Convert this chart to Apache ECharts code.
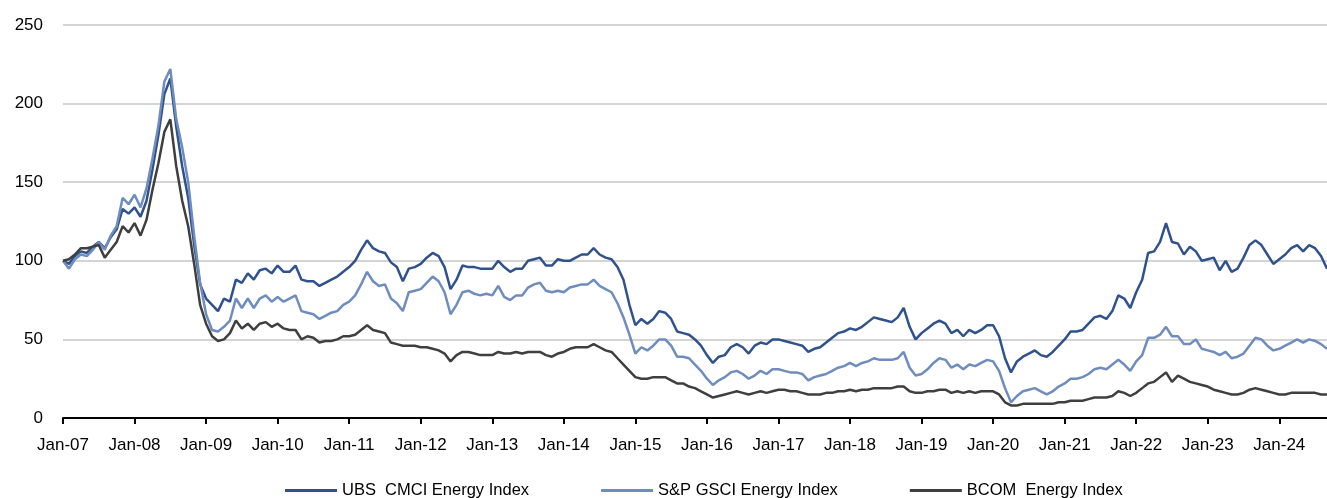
<!DOCTYPE html>
<html>
<head>
<meta charset="utf-8">
<title>Energy indices</title>
<script src="https://cdn.jsdelivr.net/npm/echarts@6/dist/echarts.min.js"></script>
<style>
  html, body { margin: 0; padding: 0; background: #fff; }
  #chart { width: 1327px; height: 498px; }
</style>
</head>
<body>
<div id="chart"></div>
<script>
// monthly readings, Jan-07 .. Sep-24
var years = ['07','08','09','10','11','12','13','14','15','16','17','18','19','20','21','22','23','24'];
var monthNames = ['Jan','Feb','Mar','Apr','May','Jun','Jul','Aug','Sep','Oct','Nov','Dec'];
var lastMonthCount = 9; // 2024 runs to Sep

var ubsCmci = [
  100, 98, 103, 106, 105, 109, 112, 108, 115, 120, 133, 130,
  134, 128, 138, 158, 180, 206, 216, 185, 160, 140, 110, 85,
  76, 72, 68, 76, 74, 88, 86, 92, 88, 94, 95, 92,
  97, 93, 93, 97, 88, 87, 87, 84, 86, 88, 90, 93,
  96, 100, 107, 113, 108, 106, 105, 99, 96, 87, 95, 96,
  98, 102, 105, 103, 96, 82, 88, 97, 96, 96, 95, 95,
  95, 100, 96, 93, 95, 95, 100, 101, 102, 97, 97, 101,
  100, 100, 102, 104, 104, 108, 104, 102, 101, 96, 88, 72,
  59, 63, 60, 63, 68, 67, 63, 55, 54, 53, 50, 46,
  40, 35, 39, 40, 45, 47, 45, 41, 46, 48, 47, 50,
  50, 49, 48, 47, 46, 42, 44, 45, 48, 51, 54, 55,
  57, 56, 58, 61, 64, 63, 62, 61, 64, 70, 58, 50,
  54, 57, 60, 62, 60, 54, 56, 52, 56, 54, 56, 59,
  59, 52, 38, 29, 36, 39, 41, 43, 40, 39, 42, 46,
  50, 55, 55, 56, 60, 64, 65, 63, 68, 78, 76, 70,
  80, 88, 105, 106, 112, 124, 112, 111, 104, 109, 106, 100,
  101, 102, 94, 100, 93, 95, 102, 110, 113, 110, 104, 98,
  101, 104, 108, 110, 106, 110, 108, 103, 95
];

var spGsci = [
  100, 95, 101, 104, 103, 107, 112, 107, 116, 122, 140, 136,
  142, 134, 146, 165, 186, 214, 222, 190, 172, 150, 116, 86,
  66, 56, 55, 58, 62, 76, 70, 76, 70, 76, 78, 74,
  77, 74, 76, 78, 68, 67, 66, 63, 65, 67, 68, 72,
  74, 78, 85, 93, 87, 84, 85, 76, 73, 68, 80, 81,
  82, 86, 90, 87, 80, 66, 72, 80, 81, 79, 78, 79,
  78, 84, 77, 75, 78, 78, 83, 85, 86, 81, 80, 81,
  80, 83, 84, 85, 85, 88, 84, 82, 80, 73, 64, 53,
  41, 45, 43, 46, 50, 50, 46, 39, 39, 38, 34, 30,
  25, 21, 24, 26, 29, 30, 28, 25, 27, 30, 28, 31,
  31, 30, 29, 29, 28, 24, 26, 27, 28, 30, 32, 33,
  35, 33, 35, 36, 38, 37, 37, 37, 38, 42, 32, 27,
  28, 31, 35, 38, 37, 32, 34, 31, 34, 33, 35, 37,
  36, 30, 19, 10, 14, 17, 18, 19, 17, 15, 17, 20,
  22, 25, 25, 26, 28, 31, 32, 31, 34, 37, 34, 30,
  36, 40, 51, 51, 53, 58, 52, 52, 47, 47, 50, 44,
  43, 42, 40, 42, 38, 39, 41, 46, 51, 50, 46, 43,
  44, 46, 48, 50, 48, 50, 49, 47, 44
];

var bcomEnergy = [
  100, 101, 104, 108, 108, 109, 110, 102, 107, 112, 122, 118,
  124, 116, 126, 145, 162, 182, 190, 160, 138, 122, 98, 72,
  60, 52, 49, 50, 54, 62, 57, 60, 56, 60, 61, 58,
  60, 57, 56, 56, 50, 52, 51, 48, 49, 49, 50, 52,
  52, 53, 56, 59, 56, 55, 54, 48, 47, 46, 46, 46,
  45, 45, 44, 43, 41, 36, 40, 42, 42, 41, 40, 40,
  40, 42, 41, 41, 42, 41, 42, 42, 42, 40, 39, 41,
  42, 44, 45, 45, 45, 47, 45, 43, 42, 38, 34, 30,
  26, 25, 25, 26, 26, 26, 24, 22, 22, 20, 19, 17,
  15, 13, 14, 15, 16, 17, 16, 15, 16, 17, 16, 17,
  18, 18, 17, 17, 16, 15, 15, 15, 16, 16, 17, 17,
  18, 17, 18, 18, 19, 19, 19, 19, 20, 20, 17, 16,
  16, 17, 17, 18, 18, 16, 17, 16, 17, 16, 17, 17,
  17, 15, 10, 8, 8, 9, 9, 9, 9, 9, 9, 10,
  10, 11, 11, 11, 12, 13, 13, 13, 14, 17, 16, 14,
  16, 19, 22, 23, 26, 29, 23, 27, 25, 23, 22, 21,
  20, 18, 17, 16, 15, 15, 16, 18, 19, 18, 17, 16,
  15, 15, 16, 16, 16, 16, 16, 15, 15
];

var seriesNames = ['UBS  CMCI Energy Index', 'S&P GSCI Energy Index', 'BCOM  Energy Index'];
var seriesColors = ['#30528c', '#6e8dbe', '#3f3f3f'];

// month labels like Jan-07
var months = [];
years.forEach(function (y, i) {
  var n = i === years.length - 1 ? lastMonthCount : 12;
  for (var m = 0; m < n; m++) {
    months.push(monthNames[m] + '-' + y);
  }
});

var font = '"Liberation Sans", Arial, sans-serif';
var isJan = function (idx, val) {
  return val.indexOf('Jan') === 0;
};

var chart = echarts.init(document.getElementById('chart'), null, { renderer: 'canvas' });

var option = {
  animation: false,
  backgroundColor: '#ffffff',
  grid: { left: 63, right: 0, top: 25, bottom: 80, containLabel: false },
  legend: {
    left: 280,
    top: 477,
    icon: 'rect',
    itemWidth: 52,
    itemHeight: 3,
    itemGap: 72,
    textStyle: { fontFamily: font, fontSize: 16.5, color: '#000' },
    data: seriesNames
  },
  xAxis: {
    type: 'category',
    boundaryGap: false,
    data: months,
    axisLine: { lineStyle: { color: '#000', width: 2 } },
    axisTick: { interval: isJan, length: 6, lineStyle: { color: '#000', width: 2 } },
    axisLabel: { interval: isJan, margin: 19, fontFamily: font, fontSize: 17, color: '#000' },
    splitLine: { show: false }
  },
  yAxis: {
    type: 'value',
    min: 0,
    max: 250,
    interval: 50,
    axisLine: { show: false },
    axisTick: { show: false },
    axisLabel: { margin: 20, fontFamily: font, fontSize: 17, color: '#000' },
    splitLine: { lineStyle: { color: '#c6c6c6', width: 1.5 } }
  },
  series: [ubsCmci, spGsci, bcomEnergy].map(function (vals, i) {
    return {
      name: seriesNames[i],
      type: 'line',
      data: vals,
      showSymbol: false,
      symbol: 'none',
      color: seriesColors[i],
      lineStyle: { color: seriesColors[i], width: 2.5 }
    };
  })
};

chart.setOption(option);
</script>
</body>
</html>
